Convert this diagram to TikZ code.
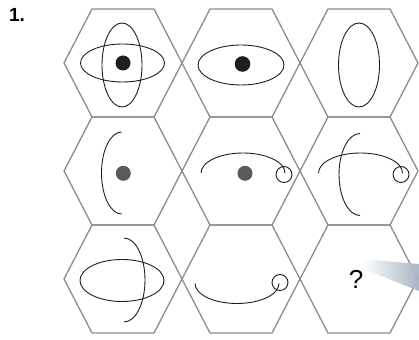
\documentclass[tikz,border=0pt]{standalone}
\usepackage{fontspec}
\setmainfont{Liberation Sans}
\begin{document}
\begin{tikzpicture}[x=1pt,y=1pt,
  hexline/.style={draw=black!45, line width=1.3pt, line join=miter},
  fig/.style={draw=black!88, line width=0.9pt},
  blackdot/.style={fill=black!88},
  greydot/.style={fill=black!65},
  loopc/.style={draw=black!88, line width=0.9pt}]
\useasboundingbox (0,0) rectangle (419,339);
% hexagons
\foreach \cx in {123,241,359}{
  \foreach \cy in {276,168,60}{
    \draw[hexline] (\cx-59,\cy) -- (\cx-31,\cy+54) -- (\cx+31,\cy+54) -- (\cx+59,\cy) -- (\cx+31,\cy-54) -- (\cx-31,\cy-54) -- cycle;
  }
}
% cell 1
\draw[fig] (122.5,276) ellipse [x radius=42, y radius=19];
\draw[fig] (122,274) ellipse [x radius=20, y radius=42];
\fill[blackdot] (123,276) circle [radius=7.5];
% cell 2
\draw[fig] (241,274) ellipse [x radius=43, y radius=20];
\fill[blackdot] (242.5,275) circle [radius=7.8];
% cell 3
\draw[fig] (359,274) ellipse [x radius=20.5, y radius=42];
% cell 4
\draw[fig] (121.5,207) arc [start angle=90, end angle=270, x radius=20, y radius=41];
\fill[greydot] (123.3,165.7) circle [radius=7.5];
% cell 5
\draw[fig] (201,166) arc [start angle=180, end angle=0, x radius=42, y radius=20];
\draw[loopc] (284,164.5) circle [radius=8];
\fill[greydot] (245,165.7) circle [radius=7.5];
% cell 6
\draw[fig] (360,205.5) arc [start angle=90, end angle=270, x radius=21, y radius=41];
\draw[fig] (318.5,166) arc [start angle=180, end angle=0, x radius=42, y radius=20];
\draw[loopc] (401,164.5) circle [radius=8];
% cell 7
\draw[fig] (122,58.5) ellipse [x radius=42, y radius=21];
\draw[fig] (124,101) arc [start angle=90, end angle=-90, x radius=21, y radius=42];
% cell 8
\draw[fig] (195,55.5) arc [start angle=180, end angle=360, x radius=42, y radius=20];
\draw[loopc] (280,56.5) circle [radius=8];
% cell 9
\node (q) at (356,60) {\fontsize{26}{28}\selectfont ?};
\shade[left color=white, right color={rgb,255:red,165;green,178;blue,194}, opacity=0.95]
  (362,80) -- (419,75) -- (419,48) -- (366,69) -- cycle;
% label
\node (lbl) at (17,324) {\fontsize{19}{21}\selectfont\bfseries 1.};
\end{tikzpicture}
\end{document}
